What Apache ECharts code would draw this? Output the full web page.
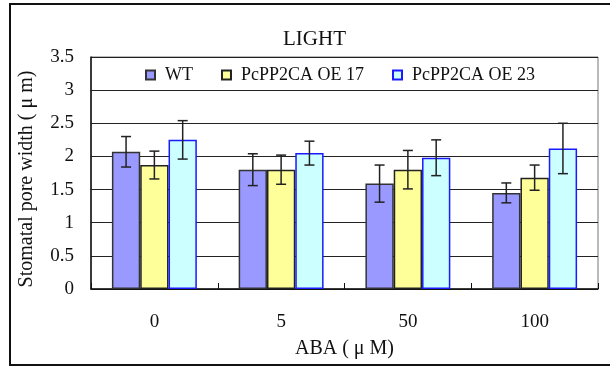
<!DOCTYPE html>
<html>
<head>
<meta charset="utf-8">
<script src="https://cdn.jsdelivr.net/npm/echarts@6/dist/echarts.min.js"></script>
<style>
html,body{margin:0;padding:0;background:#fff;}
#charts{width:610px;height:367px;}
</style>
</head>
<body>
<div id="charts"></div>
<script>
var categories = ['0', '5', '50', '100'];
var seriesNames = ['WT', 'PcPP2CA OE 17', 'PcPP2CA OE 23'];
var wt = [2.07, 1.80, 1.59, 1.45];
var oe17 = [1.87, 1.80, 1.80, 1.68];
var oe23 = [2.25, 2.05, 1.98, 2.12];
var wtErr = [0.23, 0.24, 0.28, 0.15];
var oe17Err = [0.21, 0.22, 0.29, 0.19];
var oe23Err = [0.29, 0.18, 0.27, 0.38];

var font = 'Liberation Serif';
var catGap = 0.33;

// error bar for series idx
function errSeries(idx, vals, errs){
	var data = [];
	for(var i=0;i<vals.length;i++){
		data.push([i, vals[i] - errs[i], vals[i] + errs[i]]);
	}
	return {
		type:'custom',
		z:5,
		silent:true,
		data:data,
		renderItem:function(params, api){
			var band = api.size([1,0])[0];
			var barW = band*(1-catGap)/3;
			var lo = api.coord([api.value(0), api.value(1)]);
			var hi = api.coord([api.value(0), api.value(2)]);
			var x = lo[0] + (idx-1)*barW;
			var st = {stroke:'#222', lineWidth:1.5};
			return {type:'group', children:[
				{type:'line', shape:{x1:x, y1:lo[1], x2:x, y2:hi[1]}, style:st},
				{type:'line', shape:{x1:x-5, y1:lo[1], x2:x+5, y2:lo[1]}, style:st},
				{type:'line', shape:{x1:x-5, y1:hi[1], x2:x+5, y2:hi[1]}, style:st}
			]};
		}
	};
}

var charts = echarts.init(document.getElementById('charts'));
var option = {
	animation:false,
	textStyle:{fontFamily:font, color:'#111'},
	title:{
		text:'LIGHT',
		left:278,
		top:24,
		textStyle:{fontFamily:font, fontSize:21, fontWeight:'normal', color:'#111'}
	},
	graphic:[{
		type:'rect',
		shape:{x:10, y:4, width:640, height:361},
		style:{fill:'none', stroke:'#111', lineWidth:2}
	}],
	legend:{
		data:seriesNames,
		left:140,
		top:61,
		itemWidth:9,
		itemHeight:9,
		itemGap:28,
		icon:'rect',
		textStyle:{fontFamily:font, fontSize:18, color:'#111', padding:[0,0,0,5]}
	},
	grid:{
		left:91,
		right:12,
		top:57,
		bottom:78,
		show:true,
		borderColor:'#777',
		borderWidth:1
	},
	xAxis:{
		type:'category',
		data:categories,
		name:'ABA ( μ M)',
		nameLocation:'middle',
		nameGap:50,
		nameTextStyle:{fontFamily:font, fontSize:20, color:'#111'},
		axisLine:{lineStyle:{color:'#111', width:1.5}},
		axisTick:{show:true, inside:true, length:6, lineStyle:{color:'#111'}},
		axisLabel:{fontFamily:font, fontSize:19, color:'#111', margin:24}
	},
	yAxis:{
		type:'value',
		min:0,
		max:3.5,
		interval:0.5,
		name:'Stomatal pore width ( μ m)',
		nameLocation:'middle',
		nameGap:54,
		nameTextStyle:{fontFamily:font, fontSize:20, color:'#111', padding:[0,12,0,0]},
		axisLine:{show:true, lineStyle:{color:'#111', width:1.5}},
		axisTick:{show:false},
		axisLabel:{fontFamily:font, fontSize:19, color:'#111', margin:17},
		splitLine:{lineStyle:{color:'#222', width:1}}
	},
	series:[{
		name:seriesNames[0],
		type:'bar',
		data:wt,
		barGap:'0%',
		barCategoryGap:'33%',
		itemStyle:{color:'#9999FF', borderColor:'#333', borderWidth:1.5}
	},{
		name:seriesNames[1],
		type:'bar',
		data:oe17,
		barGap:'0%',
		barCategoryGap:'33%',
		itemStyle:{color:'#FFFF99', borderColor:'#222', borderWidth:1.5}
	},{
		name:seriesNames[2],
		type:'bar',
		data:oe23,
		barGap:'0%',
		barCategoryGap:'33%',
		itemStyle:{color:'#CCFFFF', borderColor:'#1a1aff', borderWidth:1.5}
	},
	errSeries(0, wt, wtErr),
	errSeries(1, oe17, oe17Err),
	errSeries(2, oe23, oe23Err)
	]
};
charts.setOption(option);
</script>
</body>
</html>
